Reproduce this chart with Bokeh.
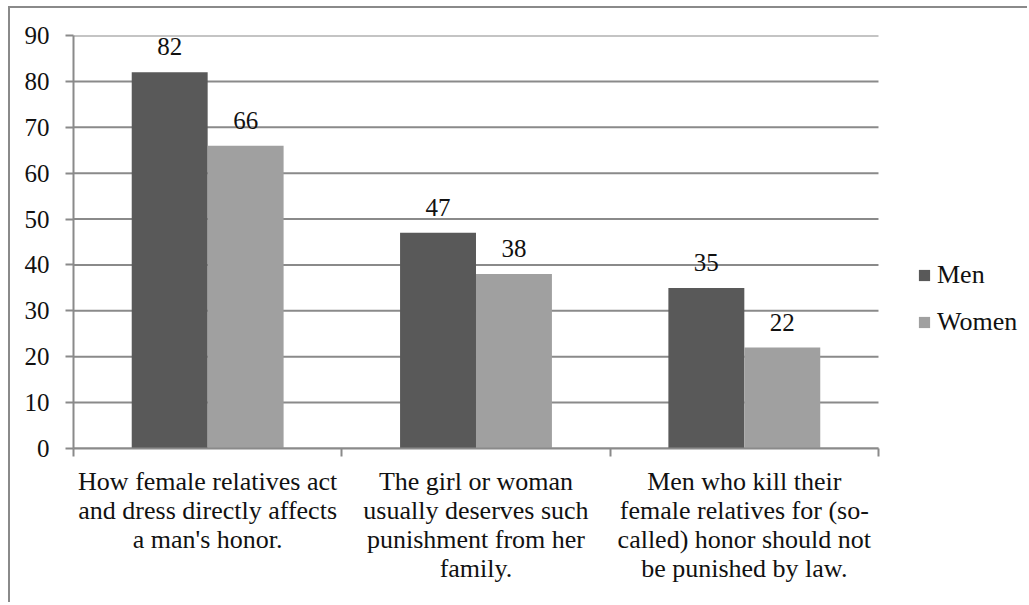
from bokeh.plotting import figure
from bokeh.models import ColumnDataSource, Range1d, FixedTicker, LabelSet, Legend, LegendItem
from bokeh.core.properties import value
from bokeh.transform import dodge
from bokeh.embed import file_html
from bokeh.resources import INLINE

categories = [
    "How female relatives act\nand dress directly affects\na man's honor.",
    "The girl or woman\nusually deserves such\npunishment from her\nfamily.",
    "Men who kill their\nfemale relatives for (so-\ncalled) honor should not\nbe punished by law.",
]
men = [82, 47, 35]
women = [66, 38, 22]
series_names = ["Men", "Women"]
y_ticks = [0, 10, 20, 30, 40, 50, 60, 70, 80, 90]

FONT = "'Liberation Serif', 'Times New Roman', serif"
LFONT = "'Liberation Serif'"
MEN_COLOR = "#595959"
WOMEN_COLOR = "#a0a0a0"
GRID = "#8a8a8a"

n = len(categories)
pos = [i + 0.5 for i in range(n)]
src = ColumnDataSource(dict(x=pos, men=men, women=women,
                            men_t=[str(v) for v in men], women_t=[str(v) for v in women]))
grid_src = ColumnDataSource(dict(y=y_ticks, x0=[0] * len(y_ticks), x1=[n] * len(y_ticks)))

# the plotting frame continues to the right edge so the legend can sit in it;
# the axis and the grid lines stop at the last category boundary
p = figure(width=1019, height=596, output_backend="svg", toolbar_location=None,
           x_range=Range1d(0, n * 1.1876), y_range=Range1d(0, 90),
           min_border_left=63, min_border_top=27, min_border_right=0, min_border_bottom=156)
p.styles = {"margin-left": "8px", "margin-top": "6px",
            "border-left": "2px solid #8a8a8a", "border-top": "2px solid #8a8a8a"}
p.outline_line_color = None
p.background_fill_color = "white"
p.border_fill_color = "white"

p.segment(x0="x0", x1="x1", y0="y", y1="y", source=grid_src, line_color=GRID, line_width=2)

bw = 0.283
r_men = p.vbar(x=dodge("x", -bw / 2, range=p.x_range), top="men", width=bw, source=src,
               fill_color=MEN_COLOR, line_color=None)
r_women = p.vbar(x=dodge("x", bw / 2, range=p.x_range), top="women", width=bw, source=src,
                 fill_color=WOMEN_COLOR, line_color=None)

for col, off in (("men", -bw / 2), ("women", bw / 2)):
    p.add_layout(LabelSet(x=dodge("x", off, range=p.x_range), y=col, text=col + "_t", source=src,
                          text_align="center", text_baseline="alphabetic", y_offset=17,
                          text_font=value(FONT), text_font_size=value("25px"),
                          text_color="#111111"))

# x axis: labels at category centers, ticks at category boundaries
xa = p.xaxis[0]
xa.bounds = (0, n)
xa.ticker = FixedTicker(ticks=pos, minor_ticks=list(range(n + 1)))
xa.major_label_overrides = {pos[i]: categories[i] for i in range(n)}
xa.major_tick_out = 0
xa.major_tick_in = 0
xa.minor_tick_out = 8
xa.minor_tick_in = 0
xa.minor_tick_line_color = GRID
xa.minor_tick_line_width = 2
xa.axis_line_color = GRID
xa.axis_line_width = 2
xa.major_label_text_font = FONT
xa.major_label_text_font_size = "26px"
xa.major_label_text_color = "#111111"
xa.major_label_standoff = 10
xa.major_label_text_line_height = 1.01

ya = p.yaxis[0]
ya.ticker = FixedTicker(ticks=y_ticks)
ya.major_tick_out = 8
ya.major_tick_in = 0
ya.minor_tick_line_color = None
ya.major_tick_line_color = GRID
ya.major_tick_line_width = 2
ya.axis_line_color = GRID
ya.axis_line_width = 2
ya.major_label_text_font = FONT
ya.major_label_text_font_size = "25px"
ya.major_label_text_color = "#111111"
ya.major_label_standoff = 16

p.xgrid.grid_line_color = None
p.ygrid.grid_line_color = None

legend = Legend(items=[LegendItem(label=series_names[0], renderers=[r_men]),
                       LegendItem(label=series_names[1], renderers=[r_women])],
                location=(844, 111), orientation="vertical",
                glyph_width=14, glyph_height=14, label_height=26, spacing=17,
                label_standoff=6, padding=0, margin=0,
                border_line_color=None, background_fill_alpha=0,
                label_text_font=LFONT, label_text_font_size="26px", label_text_color="#111111")
p.add_layout(legend, "center")

open("out.html", "w").write(file_html(p, INLINE))
